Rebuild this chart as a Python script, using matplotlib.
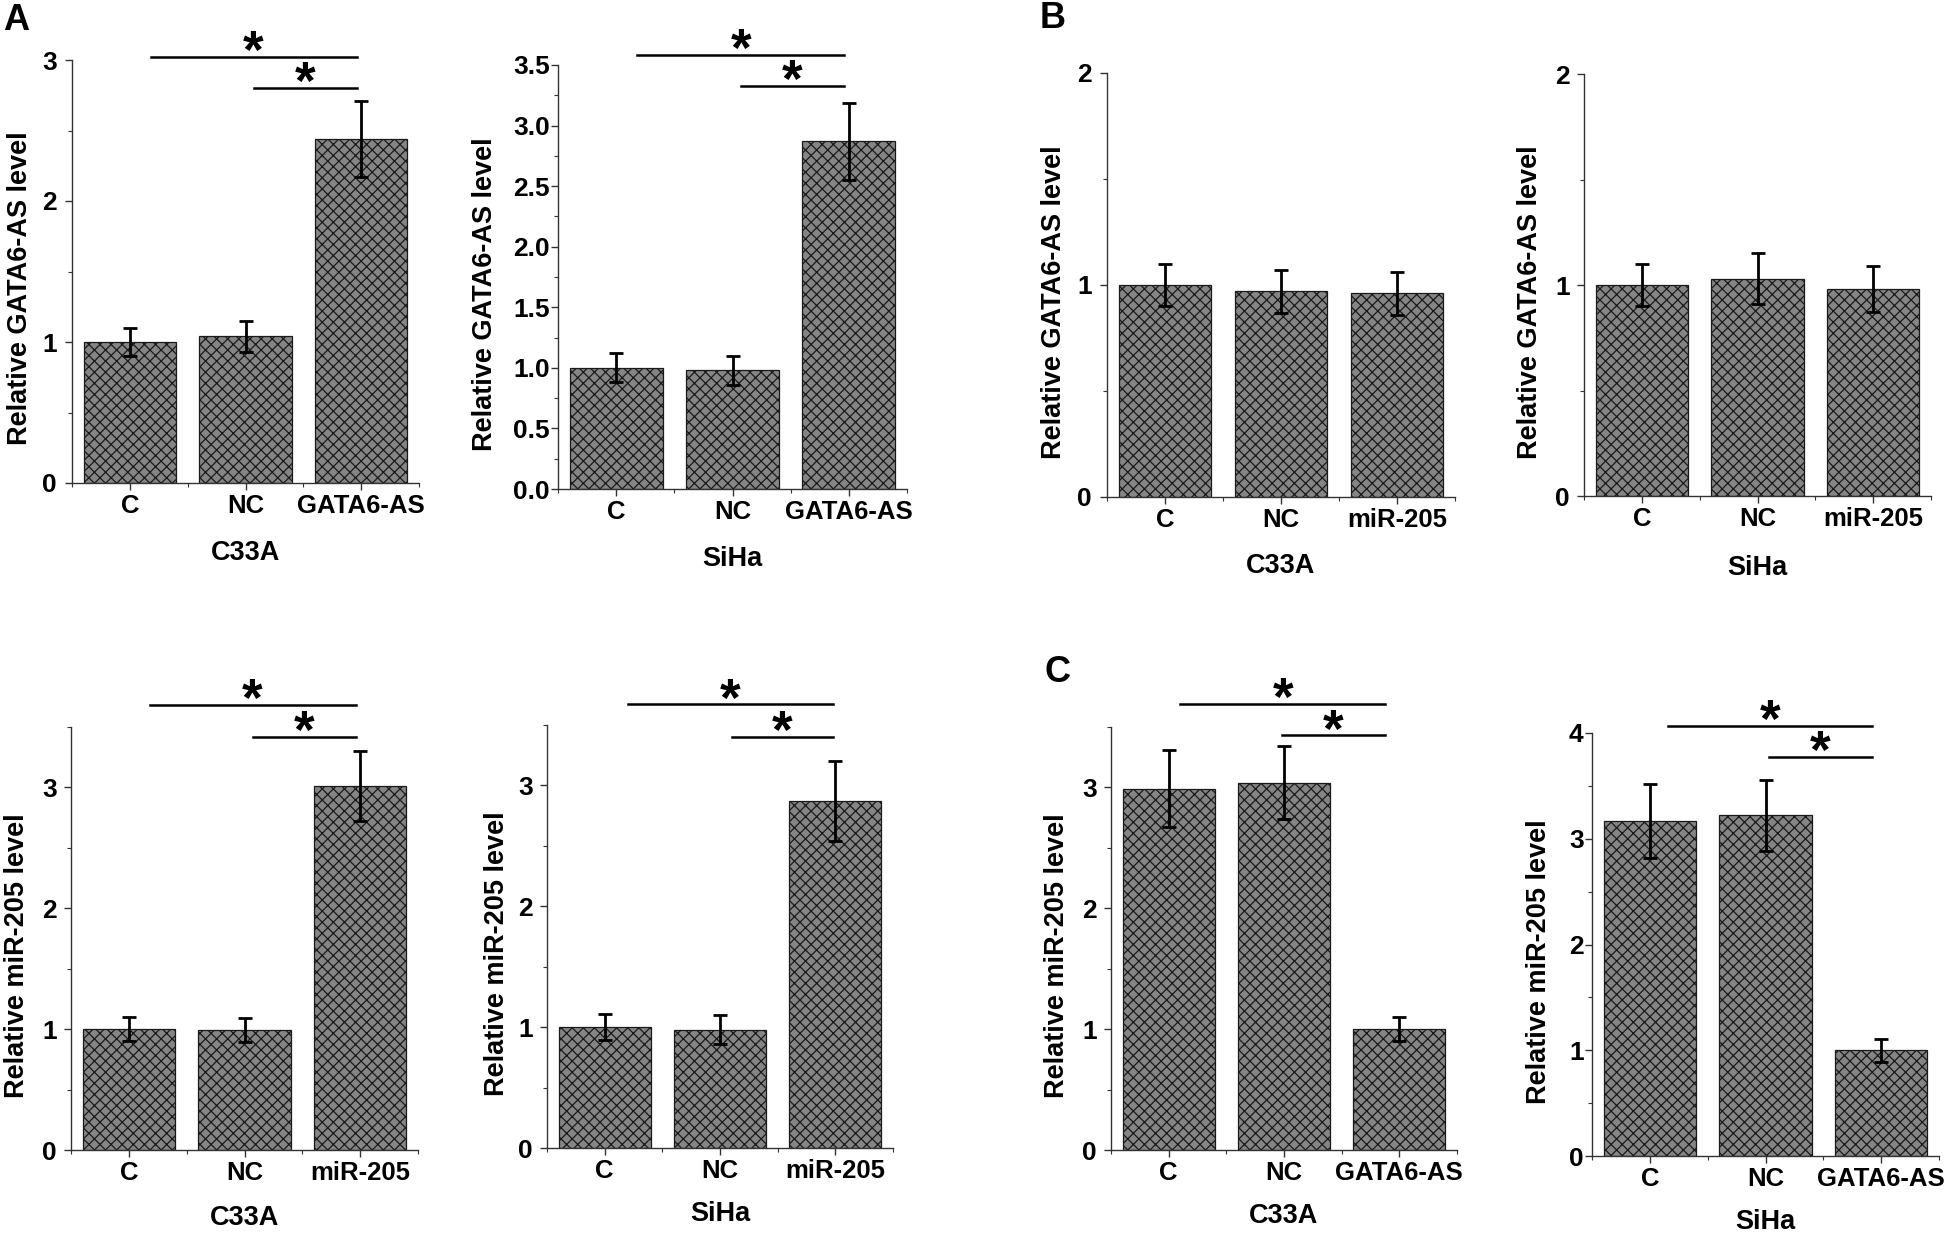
import numpy as np
import matplotlib
matplotlib.use("Agg")
import matplotlib.pyplot as plt
from matplotlib.ticker import MultipleLocator, FixedLocator

plt.rcParams['font.family'] = ['Liberation Sans', 'DejaVu Sans']
plt.rcParams['font.weight'] = 'bold'
plt.rcParams['hatch.linewidth'] = 0.9

W, H = 1946, 1238

# categories
cats_gata = ["C", "NC", "GATA6-AS"]
cats_mir = ["C", "NC", "miR-205"]

# values and error bars
gata_c33a = [1.00, 1.04, 2.44]
gata_c33a_err = [0.10, 0.11, 0.27]
gata_siha = [1.00, 0.98, 2.87]
gata_siha_err = [0.12, 0.12, 0.32]

b_c33a = [1.00, 0.97, 0.96]
b_c33a_err = [0.10, 0.10, 0.10]
b_siha = [1.00, 1.03, 0.98]
b_siha_err = [0.10, 0.12, 0.11]

mir_c33a = [1.00, 0.99, 3.01]
mir_c33a_err = [0.10, 0.10, 0.29]
mir_siha = [1.00, 0.98, 2.87]
mir_siha_err = [0.11, 0.12, 0.33]

c_c33a = [2.99, 3.04, 1.00]
c_c33a_err = [0.32, 0.30, 0.10]
c_siha = [3.17, 3.22, 1.00]
c_siha_err = [0.35, 0.34, 0.11]

ylab_gata = "Relative GATA6-AS level"
ylab_mir = "Relative miR-205 level"

# significance bars: (y, x start, x end)
sig_p1 = [(3.02, 1.18, 2.96), (2.80, 2.07, 2.96)]
sig_p2 = [(3.58, 1.18, 2.96), (3.33, 2.07, 2.96)]
sig_p5 = [(3.68, 1.18, 2.96), (3.42, 2.07, 2.96)]
sig_p6 = [(3.67, 1.20, 2.98), (3.40, 2.10, 2.98)]
sig_p7 = [(3.69, 1.10, 2.88), (3.43, 1.98, 2.88)]
sig_p8 = [(4.07, 1.16, 2.92), (3.77, 2.03, 2.92)]

# panel definitions: box (left, right, top, bottom px), ylim, tick steps, label format
panels = [
    dict(box=(72, 419, 60, 483), cats=cats_gata, v=gata_c33a, e=gata_c33a_err, xl="C33A", yl=ylab_gata,
         ymax=3, major=1, minor=0.5, fmt="{:.0f}", sig=sig_p1, ycx=18, xcy=555, ypad=6),
    dict(box=(558, 907, 65, 489), cats=cats_gata, v=gata_siha, e=gata_siha_err, xl="SiHa", yl=ylab_gata,
         ymax=3.5, major=0.5, minor=0.25, fmt="{:.1f}", sig=sig_p2, ycx=483, xcy=561, ypad=1),
    dict(box=(1107, 1455, 73, 497), cats=cats_mir, v=b_c33a, e=b_c33a_err, xl="C33A", yl=ylab_gata,
         ymax=2, major=1, minor=0.5, fmt="{:.0f}", sig=[], ycx=1052, xcy=568, ypad=6),
    dict(box=(1584, 1931, 74, 496), cats=cats_mir, v=b_siha, e=b_siha_err, xl="SiHa", yl=ylab_gata,
         ymax=2, major=1, minor=0.5, fmt="{:.0f}", sig=[], ycx=1528, xcy=570, ypad=5),
    dict(box=(71, 418, 727, 1150), cats=cats_mir, v=mir_c33a, e=mir_c33a_err, xl="C33A", yl=ylab_mir,
         ymax=3.5, major=1, minor=0.5, fmt="{:.0f}", sig=sig_p5, ycx=15, xcy=1220, ypad=5),
    dict(box=(547, 893, 725, 1148), cats=cats_mir, v=mir_siha, e=mir_siha_err, xl="SiHa", yl=ylab_mir,
         ymax=3.5, major=1, minor=0.5, fmt="{:.0f}", sig=sig_p6, ycx=495, xcy=1216, ypad=5),
    dict(box=(1111, 1457, 727, 1150), cats=cats_gata, v=c_c33a, e=c_c33a_err, xl="C33A", yl=ylab_mir,
         ymax=3.5, major=1, minor=0.5, fmt="{:.0f}", sig=sig_p7, ycx=1055, xcy=1218, ypad=5),
    dict(box=(1592, 1939, 733, 1156), cats=cats_gata, v=c_siha, e=c_siha_err, xl="SiHa", yl=ylab_mir,
         ymax=4, major=1, minor=0.5, fmt="{:.0f}", sig=sig_p8, ycx=1537, xcy=1224, ypad=1),
]

fig = plt.figure(figsize=(W / 100, H / 100), dpi=100)

for p in panels:
    left, right, top, bottom = p["box"]
    ax = fig.add_axes([left / W, 1 - bottom / H, (right - left) / W, (bottom - top) / H])
    x = np.arange(1, len(p["cats"]) + 1)
    ax.bar(x, p["v"], width=0.8, color="#858585", edgecolor="#1a1a1a", linewidth=0.9,
           hatch="xxx", zorder=2)
    ax.errorbar(x, p["v"], yerr=p["e"], fmt="none", ecolor="black", elinewidth=2.0,
                capsize=5, capthick=2.0, zorder=3)

    ax.set_xlim(0.5, 3.5)
    ax.set_ylim(0, p["ymax"])
    for s in ["top", "right"]:
        ax.spines[s].set_visible(False)
    for s in ["left", "bottom"]:
        ax.spines[s].set_linewidth(1.0)
        ax.spines[s].set_color("#333333")

    ax.set_xticks(x)
    ax.set_xticklabels(p["cats"], fontsize=18.5, fontweight="bold")
    ax.xaxis.set_minor_locator(FixedLocator([0.5, 1.5, 2.5, 3.5]))
    yt = np.arange(0, p["ymax"] + 1e-9, p["major"])
    if p["ymax"] == 3.5 and p["major"] == 1:
        yt = np.arange(0, 3.01, 1)
    ax.set_yticks(yt)
    ax.set_yticklabels([p["fmt"].format(t) for t in yt], fontsize=19, fontweight="bold")
    ax.yaxis.set_minor_locator(MultipleLocator(p["minor"]))
    ax.tick_params(axis="both", which="major", direction="out", length=5, width=1.0,
                   color="#333333")
    ax.tick_params(axis="both", which="minor", direction="out", length=3, width=0.8,
                   color="#333333")
    ax.tick_params(axis="x", which="major", pad=3)
    ax.tick_params(axis="y", which="major", pad=p["ypad"])

    ax.set_ylabel(p["yl"], fontsize=19.5, fontweight="bold")
    ax.set_xlabel(p["xl"], fontsize=19.5, fontweight="bold")
    w = right - left
    h = bottom - top
    ax.yaxis.set_label_coords((p["ycx"] + 15 - left) / w, 0.46)
    ax.xaxis.set_label_coords(0.5, (bottom - (p["xcy"] - 15)) / h)

    for (yy, xs, xe) in p["sig"]:
        ax.plot([xs, xe], [yy, yy], color="black", lw=1.8, clip_on=False, zorder=4)
        ax.annotate("*", xy=((xs + xe) / 2, yy), xytext=(0, -8), textcoords="offset points",
                    ha="center", va="baseline", fontsize=38, fontweight="bold",
                    annotation_clip=False)

# panel letters
fig.text(16 / W, 1 - 20 / H, "A", fontsize=26, fontweight="bold", ha="center", va="center")
fig.text(1053 / W, 1 - 18 / H, "B", fontsize=26, fontweight="bold", ha="center", va="center")
fig.text(1058 / W, 1 - 672 / H, "C", fontsize=26, fontweight="bold", ha="center", va="center")

fig.savefig("out.png", dpi=100, facecolor="white")
